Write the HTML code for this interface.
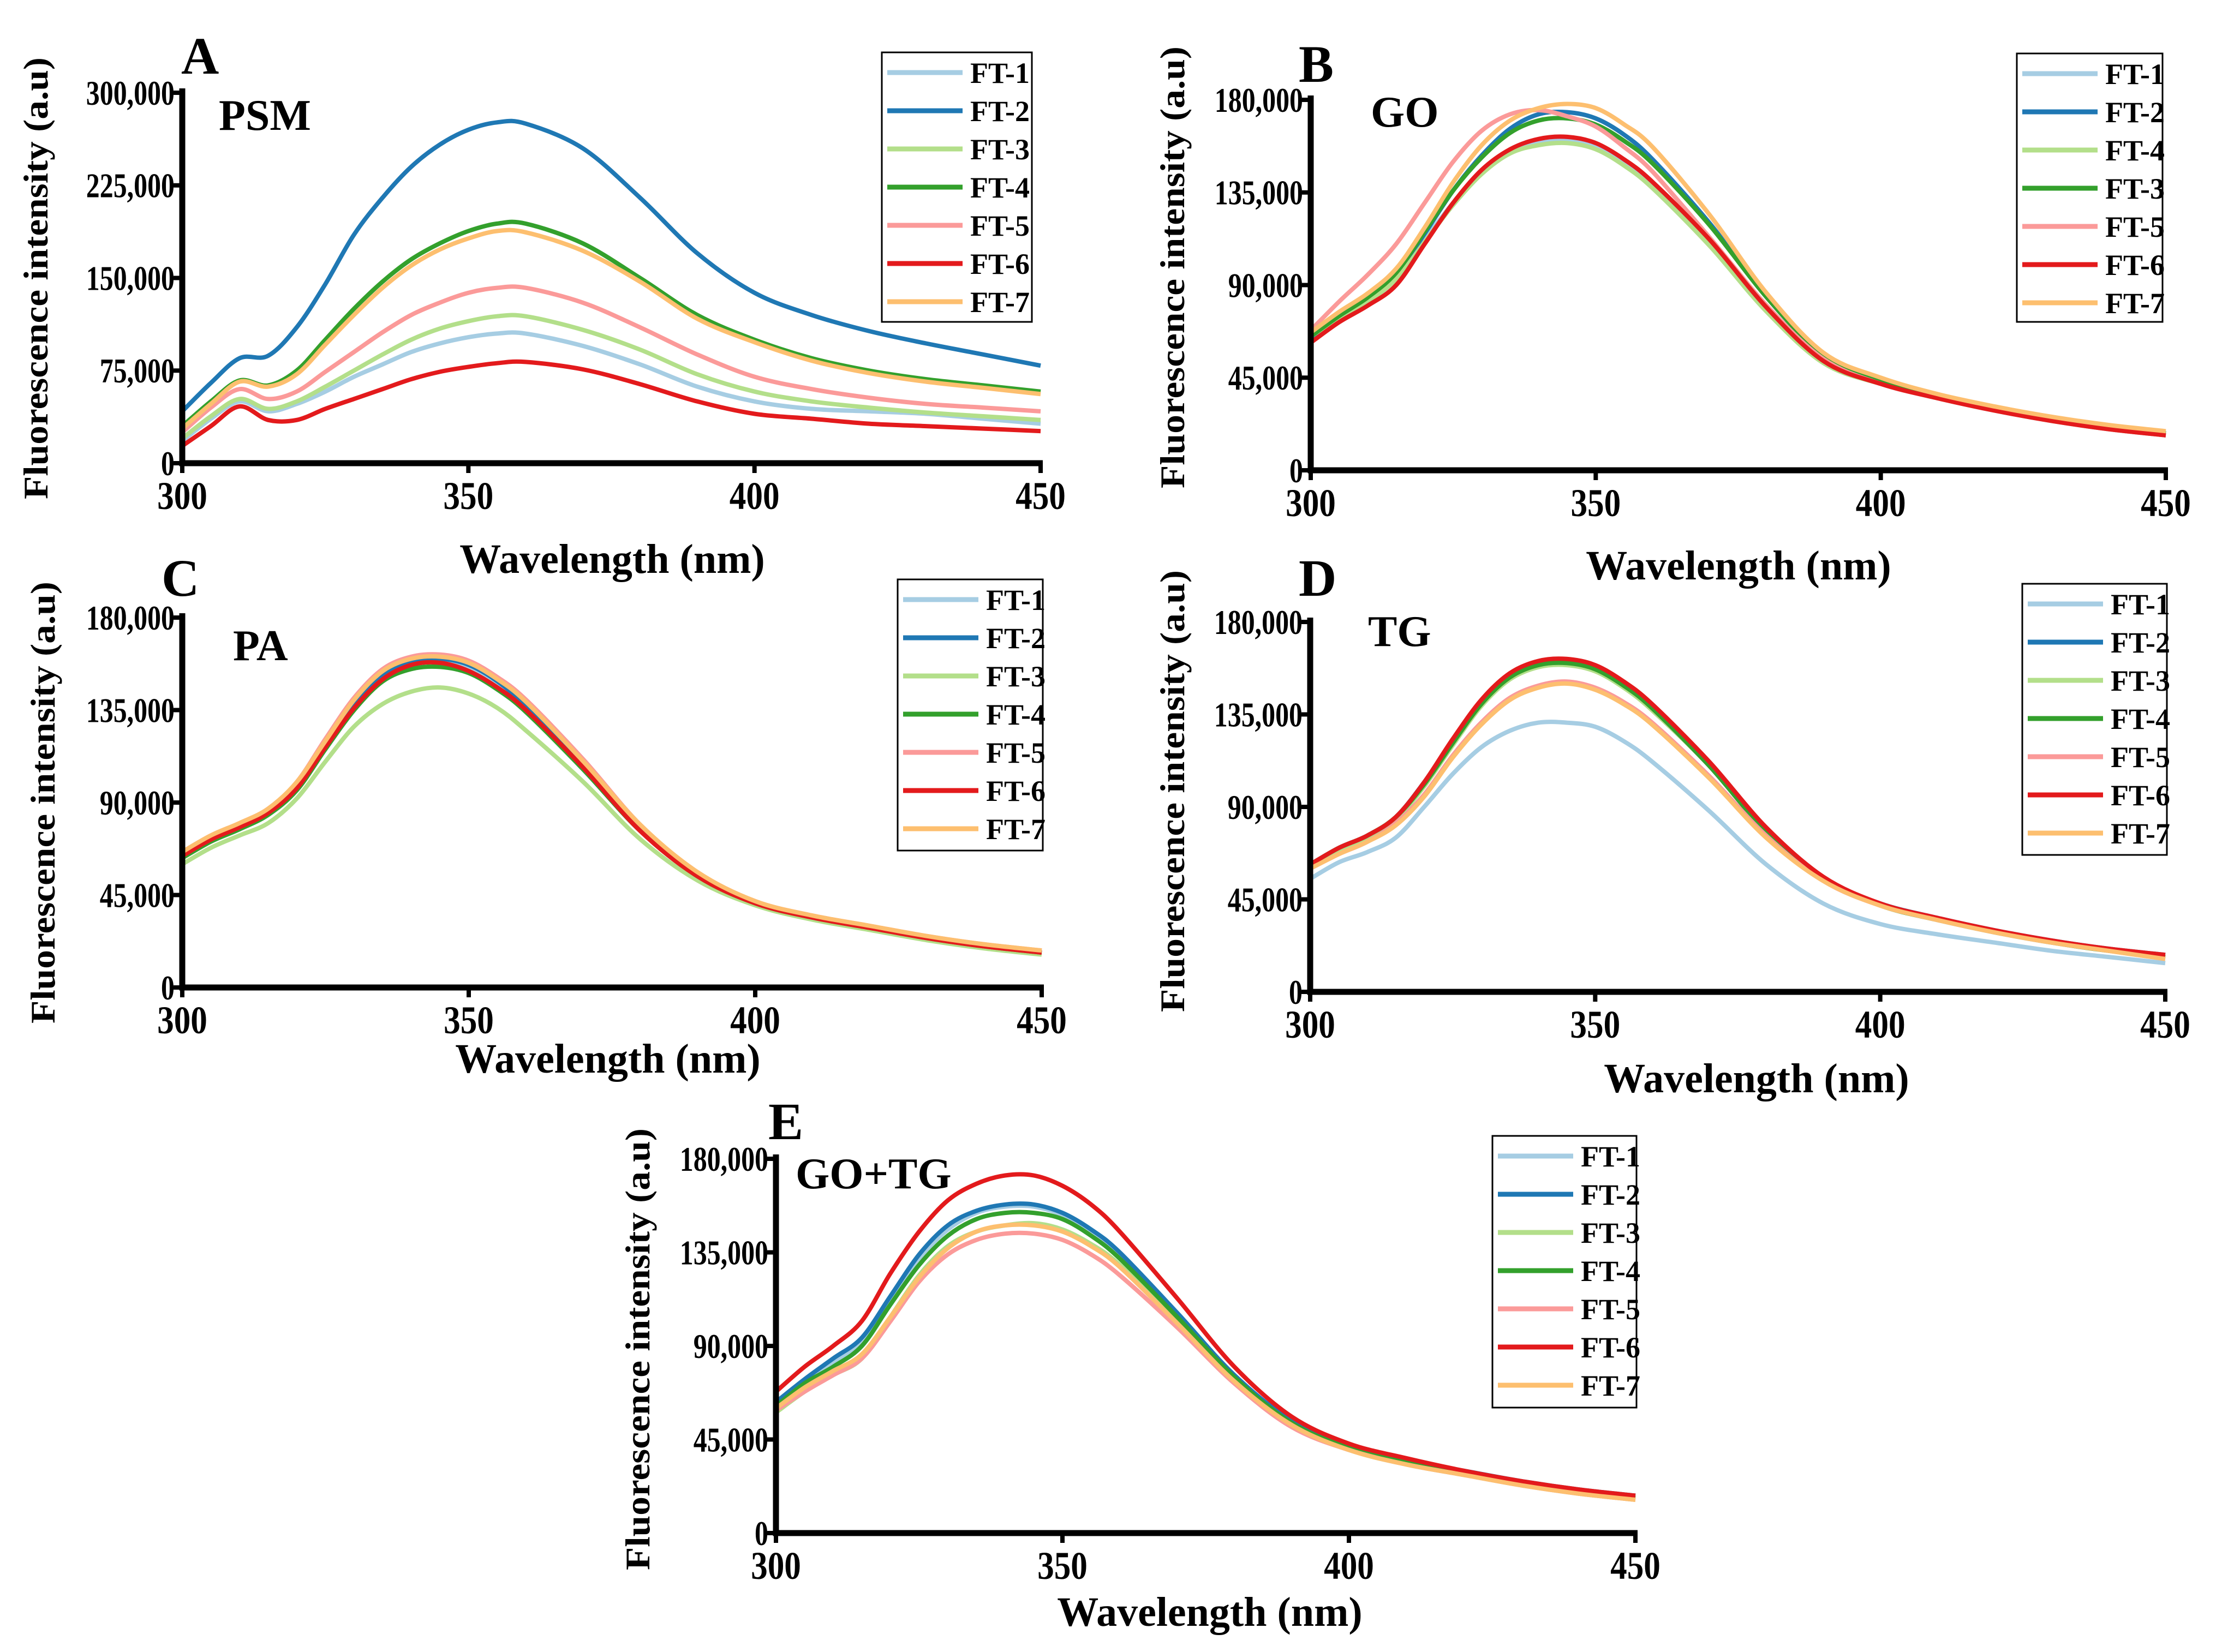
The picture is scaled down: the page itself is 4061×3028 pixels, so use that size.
<!DOCTYPE html>
<html><head><meta charset="utf-8"><style>
html,body{margin:0;padding:0;background:#fff}
svg{display:block}
text{font-family:"Liberation Serif",serif;font-weight:bold;fill:#000}
</style></head><body>
<svg id="fig" width="4061" height="3028" viewBox="0 0 4061 3028" xmlns="http://www.w3.org/2000/svg"></svg>
<script>
const wl = [300,305,310,315,320,325,330,335,340,345,350,355,360,370,380,390,400,410,420,430,440,450];
const seriesNames = ["FT-1","FT-2","FT-3","FT-4","FT-5","FT-6","FT-7"];
const goLegendNames = ["FT-1","FT-2","FT-4","FT-3","FT-5","FT-6","FT-7"];
const xTicks = [300,350,400,450];
const yTicksA = [0,75000,150000,225000,300000];
const yTicksB = [0,45000,90000,135000,180000];
const yTickLabelsA = ["0","75,000","150,000","225,000","300,000"];
const yTickLabelsB = ["0","45,000","90,000","135,000","180,000"];
// values in thousands (a.u.)
const psm1 = [18,36,50,42,48,58,70,80,90,97,102,105,105,95,80,62,50,44,42,40,36,32];
const psm2 = [42,65,85,87,110,145,185,215,240,258,270,276,275,255,215,170,138,120,107,97,88,79];
const psm3 = [20,38,52,44,50,62,75,88,100,109,115,119,119,108,92,72,58,50,45,41,38,35];
const psm4 = [30,50,67,63,75,100,125,147,165,178,188,194,194,178,150,120,100,85,75,68,63,58];
const psm5 = [25,45,60,52,58,74,90,106,120,130,138,142,142,130,110,88,70,60,53,48,45,42];
const psm6 = [14,30,46,35,35,44,52,60,68,74,78,81,82,76,64,50,40,36,32,30,28,26];
const psm7 = [28,48,66,62,72,96,120,142,160,173,182,188,187,172,147,117,98,83,73,66,61,56];
const go1 = [65,74,82,93,112,130,145,155,159,160,157,149,138,110,78,53,42,35,29,24,20,17];
const go2 = [64,74,83,95,115,136,153,166,173,174,171,163,151,120,84,56,44,36,30,25,21,18];
const go3 = [65,74,82,93,111,129,144,154,158,159,156,148,137,109,77,52,42,35,29,24,20,17];
const go4 = [65,75,84,96,116,136,152,164,170,171,168,160,149,119,84,56,44,36,30,25,21,18];
const go5 = [68,82,95,110,130,150,165,173,175,172,167,157,145,113,80,54,42,35,29,24,20,17];
const go6 = [62,72,80,90,110,130,146,156,161,162,159,151,140,112,79,53,42,35,29,24,20,17];
const go7 = [67,77,86,98,118,140,158,170,176,178,176,168,157,124,86,57,45,37,31,26,22,19];
const pa1 = [64,72,78,85,98,118,137,151,158,159,155,147,136,108,77,54,41,34,29,24,20,17];
const pa2 = [64,72,78,85,98,118,138,152,159,160,157,149,137,109,78,55,41,34,29,24,20,17];
const pa3 = [60,68,74,80,92,110,127,138,144,146,143,136,125,100,72,52,40,33,28,23,19,16];
const pa4 = [63,71,77,84,96,116,135,149,155,156,153,145,134,106,76,54,41,34,29,24,20,17];
const pa5 = [66,74,80,87,100,121,141,155,161,162,159,151,140,111,79,56,42,35,30,25,21,18];
const pa6 = [64,72,78,85,97,117,136,150,157,158,154,146,135,107,76,54,41,34,29,24,20,17];
const pa7 = [66,74,80,87,100,120,140,154,160,161,158,150,139,110,79,56,42,35,30,25,21,18];
const tg1 = [55,63,68,75,90,106,119,127,131,131,129,122,112,88,62,43,33,28,24,20,17,14];
const tg2 = [62,70,76,85,102,122,141,154,160,161,158,150,139,111,79,55,43,36,30,25,21,18];
const tg3 = [61,69,75,84,100,120,139,152,158,159,156,148,137,110,78,55,42,35,29,24,20,17];
const tg4 = [62,70,76,85,101,121,140,153,159,160,157,149,138,110,78,55,42,35,29,24,20,17];
const tg5 = [60,67,73,82,96,115,131,143,149,151,148,141,131,105,76,54,42,35,29,24,20,16];
const tg6 = [62,70,76,85,102,123,142,155,161,162,159,151,140,112,80,56,43,36,30,25,21,18];
const tg7 = [60,67,73,81,95,114,130,142,148,150,147,140,130,104,75,54,42,35,29,24,20,16];
const gt1 = [62,73,82,92,112,132,146,154,157,157,153,145,134,105,75,53,41,34,29,24,20,17];
const gt2 = [63,74,84,94,114,134,148,155,158,158,154,146,135,106,76,54,42,35,30,25,21,18];
const gt3 = [58,68,76,84,104,124,138,145,148,149,146,139,129,102,74,52,40,33,28,23,19,16];
const gt4 = [61,72,80,90,110,129,143,151,154,154,151,143,132,104,75,53,41,34,29,24,20,17];
const gt5 = [59,68,76,84,102,121,134,141,144,144,141,134,124,99,72,51,40,33,28,23,19,16];
const gt6 = [68,80,90,102,125,145,160,168,172,172,167,158,145,113,80,56,43,36,30,25,21,18];
const gt7 = [60,70,78,86,104,123,137,145,148,148,145,138,128,101,73,52,40,33,28,23,19,16];

const colors = ["#a6cde3","#1f78b4","#b3df8a","#33a02c","#fb9a99","#e31a1c","#fdbf6f"];
const NS = "http://www.w3.org/2000/svg";
const svg = document.getElementById("fig");
function mk(tag, attrs, parent){const e=document.createElementNS(NS,tag);for(const k in attrs)e.setAttribute(k,attrs[k]);(parent||svg).appendChild(e);return e;}
function smooth(pts){let d="M"+pts[0][0].toFixed(1)+","+pts[0][1].toFixed(1);
 for(let i=0;i<pts.length-1;i++){const p0=pts[Math.max(0,i-1)],p1=pts[i],p2=pts[i+1],p3=pts[Math.min(pts.length-1,i+2)];
  const c1=[p1[0]+(p2[0]-p0[0])/6,p1[1]+(p2[1]-p0[1])/6],c2=[p2[0]-(p3[0]-p1[0])/6,p2[1]-(p3[1]-p1[1])/6];
  d+=" C"+c1.map(v=>v.toFixed(1)).join(",")+" "+c2.map(v=>v.toFixed(1)).join(",")+" "+p2[0].toFixed(1)+","+p2[1].toFixed(1);}
 return d;}

const panels = [
 {id:"a",letter:"A",title:"PSM",x0:334,x1:1907,y0:849,y1:170,ymax:300000,yt:yTicksA,ytl:yTickLabelsA,series:[psm1,psm2,psm3,psm4,psm5,psm6,psm7],names:seriesNames,
  lg:[1616,96,275,494],lx:332,ly:135,tx:401,ty:238,ytx:65,yty:510,xtx:1122,xty:1050},
 {id:"b",letter:"B",title:"GO",x0:2402,x1:3969,y0:862,y1:183,ymax:180000,yt:yTicksB,ytl:yTickLabelsB,series:[go1,go2,go3,go4,go5,go6,go7],names:goLegendNames,
  lg:[3696,98,267,492],lx:2380,ly:150,tx:2512,ty:232,ytx:2148,yty:490,xtx:3186,xty:1062},
 {id:"c",letter:"C",title:"PA",x0:334,x1:1909,y0:1810,y1:1132,ymax:180000,yt:yTicksB,ytl:yTickLabelsB,series:[pa1,pa2,pa3,pa4,pa5,pa6,pa7],names:seriesNames,
  lg:[1645,1062,266,497],lx:296,ly:1092,tx:427,ty:1210,ytx:78,yty:1471,xtx:1114,xty:1966},
 {id:"d",letter:"D",title:"TG",x0:2401,x1:3968,y0:1818,y1:1140,ymax:180000,yt:yTicksB,ytl:yTickLabelsB,series:[tg1,tg2,tg3,tg4,tg5,tg6,tg7],names:seriesNames,
  lg:[3706,1070,265,497],lx:2380,ly:1092,tx:2507,ty:1184,ytx:2148,yty:1450,xtx:3219,xty:2002},
 {id:"e",letter:"E",title:"GO+TG",x0:1422,x1:2997,y0:2810,y1:2124,ymax:180000,yt:yTicksB,ytl:yTickLabelsB,series:[gt1,gt2,gt3,gt4,gt5,gt6,gt7],names:seriesNames,
  lg:[2735,2082,264,498],lx:1408,ly:2088,tx:1458,ty:2178,ytx:1168,yty:2473,xtx:2217,xty:2980}
];

panels.forEach(p=>{
 const g=mk("g",{});
 
 
 const xs=v=>p.x0+(v-300)/150*(p.x1-p.x0);
 const ys=v=>p.y0-(v*1000)/p.ymax*(p.y0-p.y1);
 p.series.forEach((s,i)=>{
  const pts=wl.map((w,j)=>[xs(w),ys(s[j])]);
  const path=mk("path",{d:smooth(pts),fill:"none",stroke:colors[i],"stroke-width":8,"stroke-linejoin":"round"},g);
  
  
 });
 const ax=mk("path",{d:`M${p.x0},${p.y1-8} L${p.x0},${p.y0} L${p.x1+4},${p.y0}`,fill:"none",stroke:"#000","stroke-width":11},g);
 
 
 xTicks.forEach(t=>{
  mk("line",{x1:xs(t),x2:xs(t),y1:p.y0,y2:p.y0+18,stroke:"#000","stroke-width":8},g);
  const xx=xs(t);
  const tl=mk("text",{x:xx,y:p.y0+84,"text-anchor":"middle","font-size":72,transform:`translate(${xx},0) scale(0.85,1) translate(${-xx},0)`},g);
  tl.textContent=t;
  
  
 });
 p.yt.forEach((t,i)=>{
  mk("line",{x1:p.x0-16,x2:p.x0,y1:ys(t/1000),y2:ys(t/1000),stroke:"#000","stroke-width":8},g);
  const tl=mk("text",{x:p.x0-14,y:ys(t/1000)+22,"text-anchor":"end","font-size":64,transform:`translate(${p.x0-14},0) scale(0.78,1) translate(${-(p.x0-14)},0)`},g);
  tl.textContent=p.ytl[i];
  
  
 });
 const xt=mk("text",{x:p.xtx,y:p.xty,"text-anchor":"middle","font-size":76},g);
 xt.textContent="Wavelength (nm)";
 
 
 const yt=mk("text",{x:0,y:0,"text-anchor":"middle","font-size":64,textLength:810,lengthAdjust:"spacingAndGlyphs",transform:`translate(${p.ytx+22},${p.yty}) rotate(-90)`},g);
 yt.textContent="Fluorescence intensity (a.u)";
 
 
 const lt=mk("text",{x:p.lx,y:p.ly,"font-size":96},g);
 lt.textContent=p.letter;
 
 
 const tt=mk("text",{x:p.tx,y:p.ty,"font-size":80},g);
 tt.textContent=p.title;
 
 
 const lg=mk("g",{},g);
 
 
 mk("rect",{x:p.lg[0],y:p.lg[1],width:p.lg[2],height:p.lg[3],fill:"#fff",stroke:"#000","stroke-width":3},lg);
 p.names.forEach((n,i)=>{
  const cy=p.lg[1]+37+i*70;
  const e=mk("g",{},lg);
  
  
  mk("line",{x1:p.lg[0]+10,x2:p.lg[0]+148,y1:cy,y2:cy,stroke:colors[i],"stroke-width":9},e);
  const t=mk("text",{x:p.lg[0]+162,y:cy+19,"font-size":54},e);
  t.textContent=n;
 });
});
</script>
</body></html>
